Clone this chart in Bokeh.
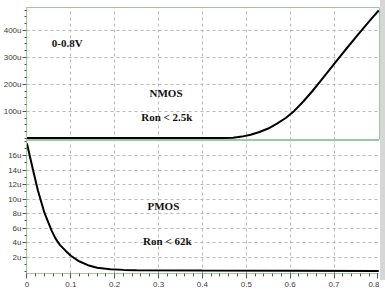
from bokeh.plotting import figure
from bokeh.models import Range1d, FixedTicker, Label, Spacer
from bokeh.layouts import column, row
from bokeh.embed import file_html
from bokeh.resources import INLINE

# ---- data (currents in micro-amps, x in volts) ----
nmos_x = [0, 0.1, 0.2, 0.3, 0.4, 0.45, 0.47, 0.49, 0.51, 0.53, 0.55, 0.57, 0.59,
          0.61, 0.63, 0.65, 0.67, 0.69, 0.71, 0.73, 0.75, 0.77, 0.79, 0.802]
nmos_y = [2, 2, 2, 2, 2, 2.2, 3, 7, 14, 24, 37, 55, 76,
          103, 137, 174, 214, 255, 296, 336, 375, 414, 452, 474]

pmos_x = [0, 0.014, 0.025, 0.040, 0.056, 0.065, 0.075, 0.088, 0.1, 0.12, 0.139,
          0.16, 0.19, 0.22, 0.25, 0.4, 0.6, 0.802]
pmos_y = [17.7, 14, 11.2, 8.1, 5.7, 4.6, 3.7, 2.9, 2.2, 1.4, 0.9,
          0.55, 0.35, 0.25, 0.2, 0.15, 0.12, 0.1]

x_ticks = [0, 0.1, 0.2, 0.3, 0.4, 0.5, 0.6, 0.7, 0.8]
x_labels = ["0", "0.1", "0.2", "0.3", "0.4", "0.5", "0.6", "0.7", "0.8"]
top_ticks = [100, 200, 300, 400]
top_labels = ["100u", "200u", "300u", "400u"]
bot_ticks = [2, 4, 6, 8, 10, 12, 14, 16]
bot_labels = ["2u", "4u", "6u", "8u", "10u", "12u", "14u", "16u"]

top_texts = ["0-0.8V", "NMOS", "Ron < 2.5k"]
top_text_x = [0.092, 0.317, 0.319]
top_text_y = [352, 170, 78]
bot_texts = ["PMOS", "Ron < 62k"]
bot_text_x = [0.311, 0.32]
bot_text_y = [9.0, 4.3]

GREEN = "#9ec89e"
GRID = "#b8b8b8"
TICKC = "#555555"
LABC = "#3a3a3a"

xr = Range1d(-0.001, 0.806)


def style(p, yticks, ylabels, yminor):
    p.outline_line_color = GREEN
    p.outline_line_width = 1
    p.background_fill_color = "white"
    p.border_fill_color = "white"
    ya = p.yaxis[0]
    ya.ticker = FixedTicker(ticks=yticks, minor_ticks=yminor)
    ya.major_label_overrides = {t: l for t, l in zip(yticks, ylabels)}
    ya.major_label_text_font = "Liberation Sans"
    ya.major_label_text_font_size = "8px"
    ya.major_label_text_color = LABC
    ya.major_label_standoff = 1
    ya.axis_line_color = GREEN
    ya.major_tick_line_color = TICKC
    ya.minor_tick_line_color = TICKC
    ya.major_tick_out = 4
    ya.major_tick_in = 0
    ya.minor_tick_out = 2
    ya.minor_tick_in = 0
    p.ygrid.ticker = FixedTicker(ticks=yticks)
    p.ygrid.grid_line_color = GRID
    p.ygrid.grid_line_dash = "3 3"
    p.xgrid.ticker = FixedTicker(ticks=x_ticks[1:-1])
    p.xgrid.grid_line_color = GRID
    p.xgrid.grid_line_dash = "3 3"


top_minor = [v for v in range(0, 481, 25) if v not in top_ticks]
bot_minor = [v for v in range(0, 19) if v not in bot_ticks]

p1 = figure(frame_width=354, frame_height=133, x_range=xr,
            y_range=Range1d(-7.4, 485), output_backend="svg",
            toolbar_location=None, min_border_left=25, min_border_right=0,
            min_border_top=7, min_border_bottom=0)
p1.xaxis.visible = False
style(p1, top_ticks, top_labels, top_minor)
p1.line(nmos_x, nmos_y, line_color="black", line_width=2)
for t, x, y in zip(top_texts, top_text_x, top_text_y):
    p1.add_layout(Label(x=x, y=y, text=t, text_font="Liberation Serif",
                        text_font_style="bold", text_font_size="11px",
                        text_align="center", text_baseline="middle",
                        text_color="#111111"))

p2 = figure(frame_width=354, frame_height=133, x_range=xr,
            y_range=Range1d(-0.25, 18.1), output_backend="svg",
            toolbar_location=None, min_border_left=25, min_border_right=0,
            min_border_top=0, min_border_bottom=17)
style(p2, bot_ticks, bot_labels, bot_minor)
xa = p2.xaxis[0]
xa.ticker = FixedTicker(ticks=x_ticks,
                        minor_ticks=[round(i * 0.02, 2) for i in range(41)])
xa.major_label_overrides = {t: l for t, l in zip(x_ticks, x_labels)}
xa.major_label_text_font = "Liberation Sans"
xa.major_label_text_font_size = "8px"
xa.major_label_text_color = LABC
xa.major_label_standoff = 3
xa.axis_line_color = GREEN
xa.major_tick_line_color = TICKC
xa.minor_tick_line_color = TICKC
xa.major_tick_out = 5
xa.major_tick_in = 0
xa.minor_tick_out = 3
xa.minor_tick_in = 0
p2.line(pmos_x, pmos_y, line_color="black", line_width=2)
for t, x, y in zip(bot_texts, bot_text_x, bot_text_y):
    p2.add_layout(Label(x=x, y=y, text=t, text_font="Liberation Serif",
                        text_font_style="bold", text_font_size="11px",
                        text_align="center", text_baseline="middle",
                        text_color="#111111"))

bar = Spacer(width=6, height=280, styles={"background-color": "#d6d6d6"})
layout = row(column(p1, p2, spacing=0), bar, spacing=0)

open("out.html", "w").write(file_html(layout, INLINE))
